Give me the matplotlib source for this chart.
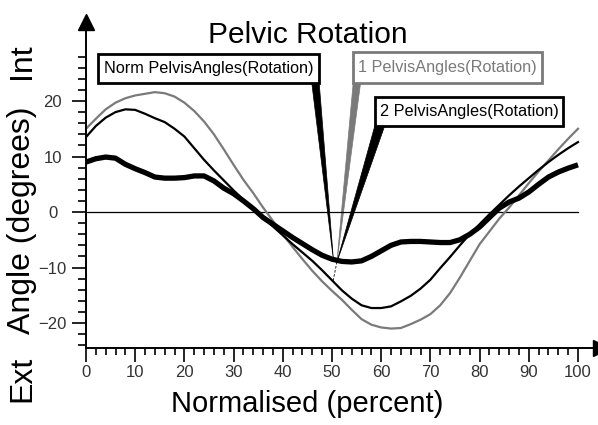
import matplotlib
matplotlib.use("Agg")
import matplotlib.pyplot as plt
import matplotlib.transforms as mtransforms
from matplotlib.patches import Rectangle, Polygon
import numpy as np

plt.rcParams['font.family'] = ['Liberation Sans', 'DejaVu Sans']

# ---------------- data ----------------
pct = list(range(0, 101, 2))

norm_rot = [9.0, 9.6, 9.9, 9.7, 8.6, 7.8, 7.1, 6.3, 6.1, 6.1,
            6.2, 6.5, 6.5, 5.6, 4.3, 3.3, 2.0, 0.6, -1.0, -2.2,
            -3.4, -4.6, -5.7, -6.8, -7.8, -8.5, -8.9, -9.0, -8.8, -8.0,
            -7.0, -6.0, -5.4, -5.3, -5.3, -5.4, -5.5, -5.5, -5.0, -4.0,
            -2.7, -1.0, 0.7, 1.8, 2.5, 3.6, 5.0, 6.3, 7.2, 7.9, 8.5]

trial1_rot = [15.0, 16.8, 18.5, 19.7, 20.5, 21.0, 21.3, 21.6, 21.4, 20.8,
              19.7, 18.2, 16.3, 14.0, 11.3, 8.5, 5.8, 3.4, 0.8, -1.6,
              -4.0, -6.3, -8.5, -10.6, -12.5, -14.2, -15.8, -17.6, -19.3, -20.3,
              -20.8, -21.0, -20.9, -20.2, -19.4, -18.4, -16.8, -14.6, -11.8, -8.8,
              -5.8, -3.5, -1.2, 0.8, 3.0, 5.2, 7.3, 9.3, 11.3, 13.2, 15.0]

trial2_rot = [13.5, 15.5, 17.0, 18.0, 18.5, 18.4, 17.7, 16.9, 16.2, 15.0,
              13.6, 11.5, 9.4, 7.5, 5.7, 3.9, 2.2, 0.5, -1.0, -2.6,
              -4.2, -5.8, -7.3, -8.8, -10.5, -12.3, -14.1, -15.6, -16.8, -17.3,
              -17.3, -17.0, -16.1, -15.1, -13.8, -12.2, -10.1, -8.1, -6.0, -4.0,
              -2.2, -0.4, 1.3, 3.0, 4.6, 6.1, 7.6, 9.0, 10.3, 11.5, 12.6]

x_major = [0, 10, 20, 30, 40, 50, 60, 70, 80, 90, 100]
y_major = [-20, -10, 0, 10, 20]

title = "Pelvic Rotation"
xlabel = "Normalised (percent)"
ylabel = "Angle (degrees)"
label_norm = "Norm PelvisAngles(Rotation)"
label_1 = "1 PelvisAngles(Rotation)"
label_2 = "2 PelvisAngles(Rotation)"

GRAY = "#7a7a7a"

# ---------------- figure ----------------
W, H = 598, 425
fig = plt.figure(figsize=(W / 100, H / 100), dpi=100)
fig.patch.set_facecolor("white")

L, R, B, T = 86, 593, 348, 30
ax = fig.add_axes([L / W, 1 - B / H, (R - L) / W, (B - T) / H])
ax.set_xlim(0, (R - L) / 4.92)
ax.set_ylim(-24.5, (212 - T) / 5.55)

for s in ["top", "right"]:
    ax.spines[s].set_visible(False)
for s in ["left", "bottom"]:
    ax.spines[s].set_linewidth(1.4)

ax.set_xticks(x_major)
ax.set_xticks(list(range(0, 101, 2)), minor=True)
ax.set_yticks(y_major)
ax.set_yticks(list(range(-24, 29, 2)), minor=True)
ax.tick_params(axis="x", which="major", length=10, width=1.2, pad=2,
               labelsize=12, labelcolor="#333333", direction="out")
ax.tick_params(axis="x", which="minor", length=5, width=1.2, direction="out")
ax.tick_params(axis="y", which="major", length=10, width=1.2, pad=14,
               labelsize=12, labelcolor="#333333", direction="out")
ax.tick_params(axis="y", which="minor", length=6, width=1.2, direction="out")
for lbl in ax.get_yticklabels():
    lbl.set_horizontalalignment("center")

# arrowheads
ms = 12
ax.plot([0], [1], marker="^", markersize=ms, color="black", clip_on=False,
        transform=mtransforms.offset_copy(ax.transAxes, fig=fig, x=0, y=ms / 2, units="points"))
ax.plot([1], [0], marker=">", markersize=ms, color="black", clip_on=False,
        transform=mtransforms.offset_copy(ax.transAxes, fig=fig, x=ms / 2, y=0, units="points"))

# zero line
ax.plot([0, 100], [0, 0], color="black", lw=0.9)

# curves
ax.plot(pct, trial1_rot, color=GRAY, lw=1.6, solid_joinstyle="round")
ax.plot(pct, trial2_rot, color="black", lw=1.6, solid_joinstyle="round")
ax.plot(pct, norm_rot, color="black", lw=3.8, solid_capstyle="butt", solid_joinstyle="round")

# callout wedges
tip = (51.0, -9.0)
ax.add_patch(Polygon([(45.9, 23.2), (47.4, 23.2), (50.3, -8.7)], closed=True,
                     facecolor="black", edgecolor="black", lw=0.5, clip_on=False))
ax.add_patch(Polygon([(54.3, 23.2), (55.8, 23.2), tip], closed=True,
                     facecolor=GRAY, edgecolor=GRAY, lw=0.5, clip_on=False))
ax.add_patch(Polygon([(58.7, 15.5), (60.7, 15.5), tip], closed=True,
                     facecolor="black", edgecolor="black", lw=0.5, clip_on=False))
ax.plot([tip[0], 50.2], [tip[1], -12.5], color="black", lw=0.6, ls=(0, (3, 2)))

# label boxes
def box(x0, x1, y0, y1, text, color):
    ax.add_patch(Rectangle((x0, y0), x1 - x0, y1 - y0, facecolor="white",
                           edgecolor=color, lw=2.0, clip_on=False, zorder=5))
    ax.text((x0 + x1) / 2, (y0 + y1) / 2, text, ha="center", va="center",
            fontsize=11.7, color=color, zorder=6, clip_on=False)

box(2.44, 47.36, 23.2, 28.5, label_norm, "black")
box(54.3, 92.7, 23.2, 28.8, label_1, GRAY)
box(58.7, 97.0, 15.5, 20.7, label_2, "black")

# titles / labels
fig.text(308 / W, 1 - 35 / H, title, ha="center", va="center", fontsize=21.5)
fig.text(307 / W, 1 - 404 / H, xlabel, ha="center", va="center", fontsize=21)
fig.text(22 / W, 1 - 220 / H, ylabel, ha="center", va="center", fontsize=23, rotation=90)
fig.text(22 / W, 1 - 61 / H, "Int", ha="center", va="center", fontsize=23, rotation=90)
fig.text(22 / W, 1 - 379 / H, "Ext", ha="center", va="center", fontsize=23, rotation=90)

fig.savefig("out.png", dpi=100, facecolor="white")
